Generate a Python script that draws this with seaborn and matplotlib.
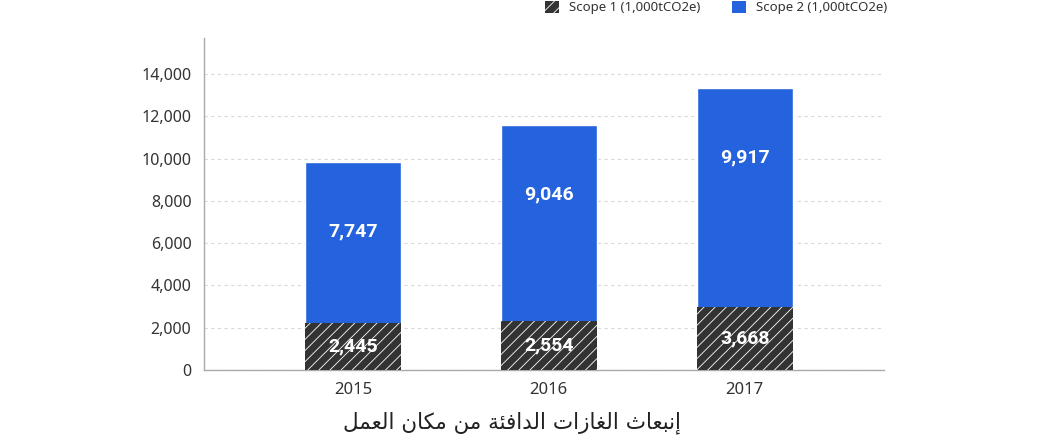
import matplotlib
matplotlib.use("Agg")
import matplotlib.pyplot as plt
import seaborn as sns
import pandas as pd
from matplotlib.patches import Patch

# ---- data (bar heights; labels as printed) ----
years = ["2015", "2016", "2017"]
scope1 = [2236, 2317, 2995]
scope2 = [7600, 9267, 10345]
scope1_labels = ["2,445", "2,554", "3,668"]
scope2_labels = ["7,747", "9,046", "9,917"]
yticks = [0, 2000, 4000, 6000, 8000, 10000, 12000, 14000]
legend_labels = ["Scope 1 (1,000tCO2e)", "Scope 2 (1,000tCO2e)"]
title = "إنبعاث الغازات الدافئة من مكان العمل"

BLUE = "#2563DE"
DARK = "#333333"

# ---- minimal Arabic shaping for matplotlib (no native bidi/shaping) ----
FORMS = {
    "ا": ("\uFE8D", "\uFE8E", None, None),
    "إ": ("\uFE87", "\uFE88", None, None),
    "ة": ("\uFE93", "\uFE94", None, None),
    "د": ("\uFEA9", "\uFEAA", None, None),
    "ز": ("\uFEAF", "\uFEB0", None, None),
    "ب": ("\uFE8F", "\uFE90", "\uFE91", "\uFE92"),
    "ت": ("\uFE95", "\uFE96", "\uFE97", "\uFE98"),
    "ث": ("\uFE99", "\uFE9A", "\uFE9B", "\uFE9C"),
    "ع": ("\uFEC9", "\uFECA", "\uFECB", "\uFECC"),
    "غ": ("\uFECD", "\uFECE", "\uFECF", "\uFED0"),
    "ف": ("\uFED1", "\uFED2", "\uFED3", "\uFED4"),
    "ك": ("\uFED9", "\uFEDA", "\uFEDB", "\uFEDC"),
    "ل": ("\uFEDD", "\uFEDE", "\uFEDF", "\uFEE0"),
    "م": ("\uFEE1", "\uFEE2", "\uFEE3", "\uFEE4"),
    "ن": ("\uFEE5", "\uFEE6", "\uFEE7", "\uFEE8"),
    "ئ": ("\uFE89", "\uFE8A", "\uFE8B", "\uFE8C"),
}


def shape_arabic(s):
    out = []
    for i, ch in enumerate(s):
        if ch not in FORMS:
            out.append(ch)
            continue
        prev = s[i - 1] if i > 0 else ""
        nxt = s[i + 1] if i + 1 < len(s) else ""
        prev_join = prev in FORMS and FORMS[prev][2] is not None
        dual = FORMS[ch][2] is not None
        next_join = dual and nxt in FORMS
        iso, fin, ini, med = FORMS[ch]
        if prev_join and next_join:
            out.append(med)
        elif prev_join:
            out.append(fin)
        elif next_join:
            out.append(ini)
        else:
            out.append(iso)
    return "".join(out)[::-1]


sns.set_theme(style="white")
plt.rcParams["font.family"] = ["Noto Sans", "DejaVu Sans"]
plt.rcParams["hatch.color"] = "white"
plt.rcParams["hatch.linewidth"] = 0.6

df = pd.DataFrame({"year": years, "scope1": scope1, "scope2": scope2})
df["total"] = df["scope1"] + df["scope2"]

fig = plt.figure(figsize=(10.38, 4.47), dpi=100)
ax = fig.add_axes([0.1965, 0.1723, 0.655, 0.7427])

sns.barplot(data=df, x="year", y="total", color=BLUE, width=0.49,
            saturation=1, ax=ax, zorder=3)
sns.barplot(data=df, x="year", y="scope1", color=DARK, width=0.49,
            saturation=1, ax=ax, zorder=3, hatch="///", edgecolor="none")
for p in ax.patches[len(years):]:
    p.set_hatch("///")
    p.set_edgecolor("white")
    p.set_linewidth(0)

lbl_font = dict(color="white", fontsize=14, fontweight="bold",
                family=["Roboto", "DejaVu Sans"], zorder=5)
for i in range(len(years)):
    total = scope1[i] + scope2[i]
    ax.text(i, scope1[i] / 2, scope1_labels[i], ha="center", va="center", **lbl_font)
    ax.text(i, total - 3300, scope2_labels[i], ha="center", va="center", **lbl_font)

ax.set_xlim(-0.76, 2.71)
ax.set_ylim(0, 15700)
ax.set_yticks(yticks)
ax.set_yticklabels([f"{v:,}" for v in yticks])
ax.yaxis.grid(True, linestyle=(0, (3, 3)), color="#d9d9d9", linewidth=0.8, zorder=0)
ax.xaxis.grid(False)
ax.set_xlabel("")
ax.set_ylabel("")
ax.tick_params(axis="y", length=0, labelsize=11.5, colors="#333333", pad=9)
ax.tick_params(axis="x", length=0, labelsize=12, colors="#333333", pad=9)

fig.text(0.4935, 1 - 423 / 447, shape_arabic(title), ha="center", va="center",
         fontsize=15.5, color="#222222", family=["DejaVu Sans"])

for side in ["top", "right"]:
    ax.spines[side].set_visible(False)
for side in ["left", "bottom"]:
    ax.spines[side].set_color("#aaaaaa")
    ax.spines[side].set_linewidth(1)

handles = [Patch(facecolor=DARK, hatch="///", edgecolor="white", linewidth=0),
           Patch(facecolor=BLUE, edgecolor="none")]
fig.legend(handles, legend_labels, loc="upper right", ncol=2, frameon=False,
           bbox_to_anchor=(0.866, 1.025), fontsize=9.5, handlelength=1.05,
           handleheight=1.05, columnspacing=2.4, handletextpad=0.75,
           labelcolor="#333333")

fig.savefig("out.png", dpi=100)
